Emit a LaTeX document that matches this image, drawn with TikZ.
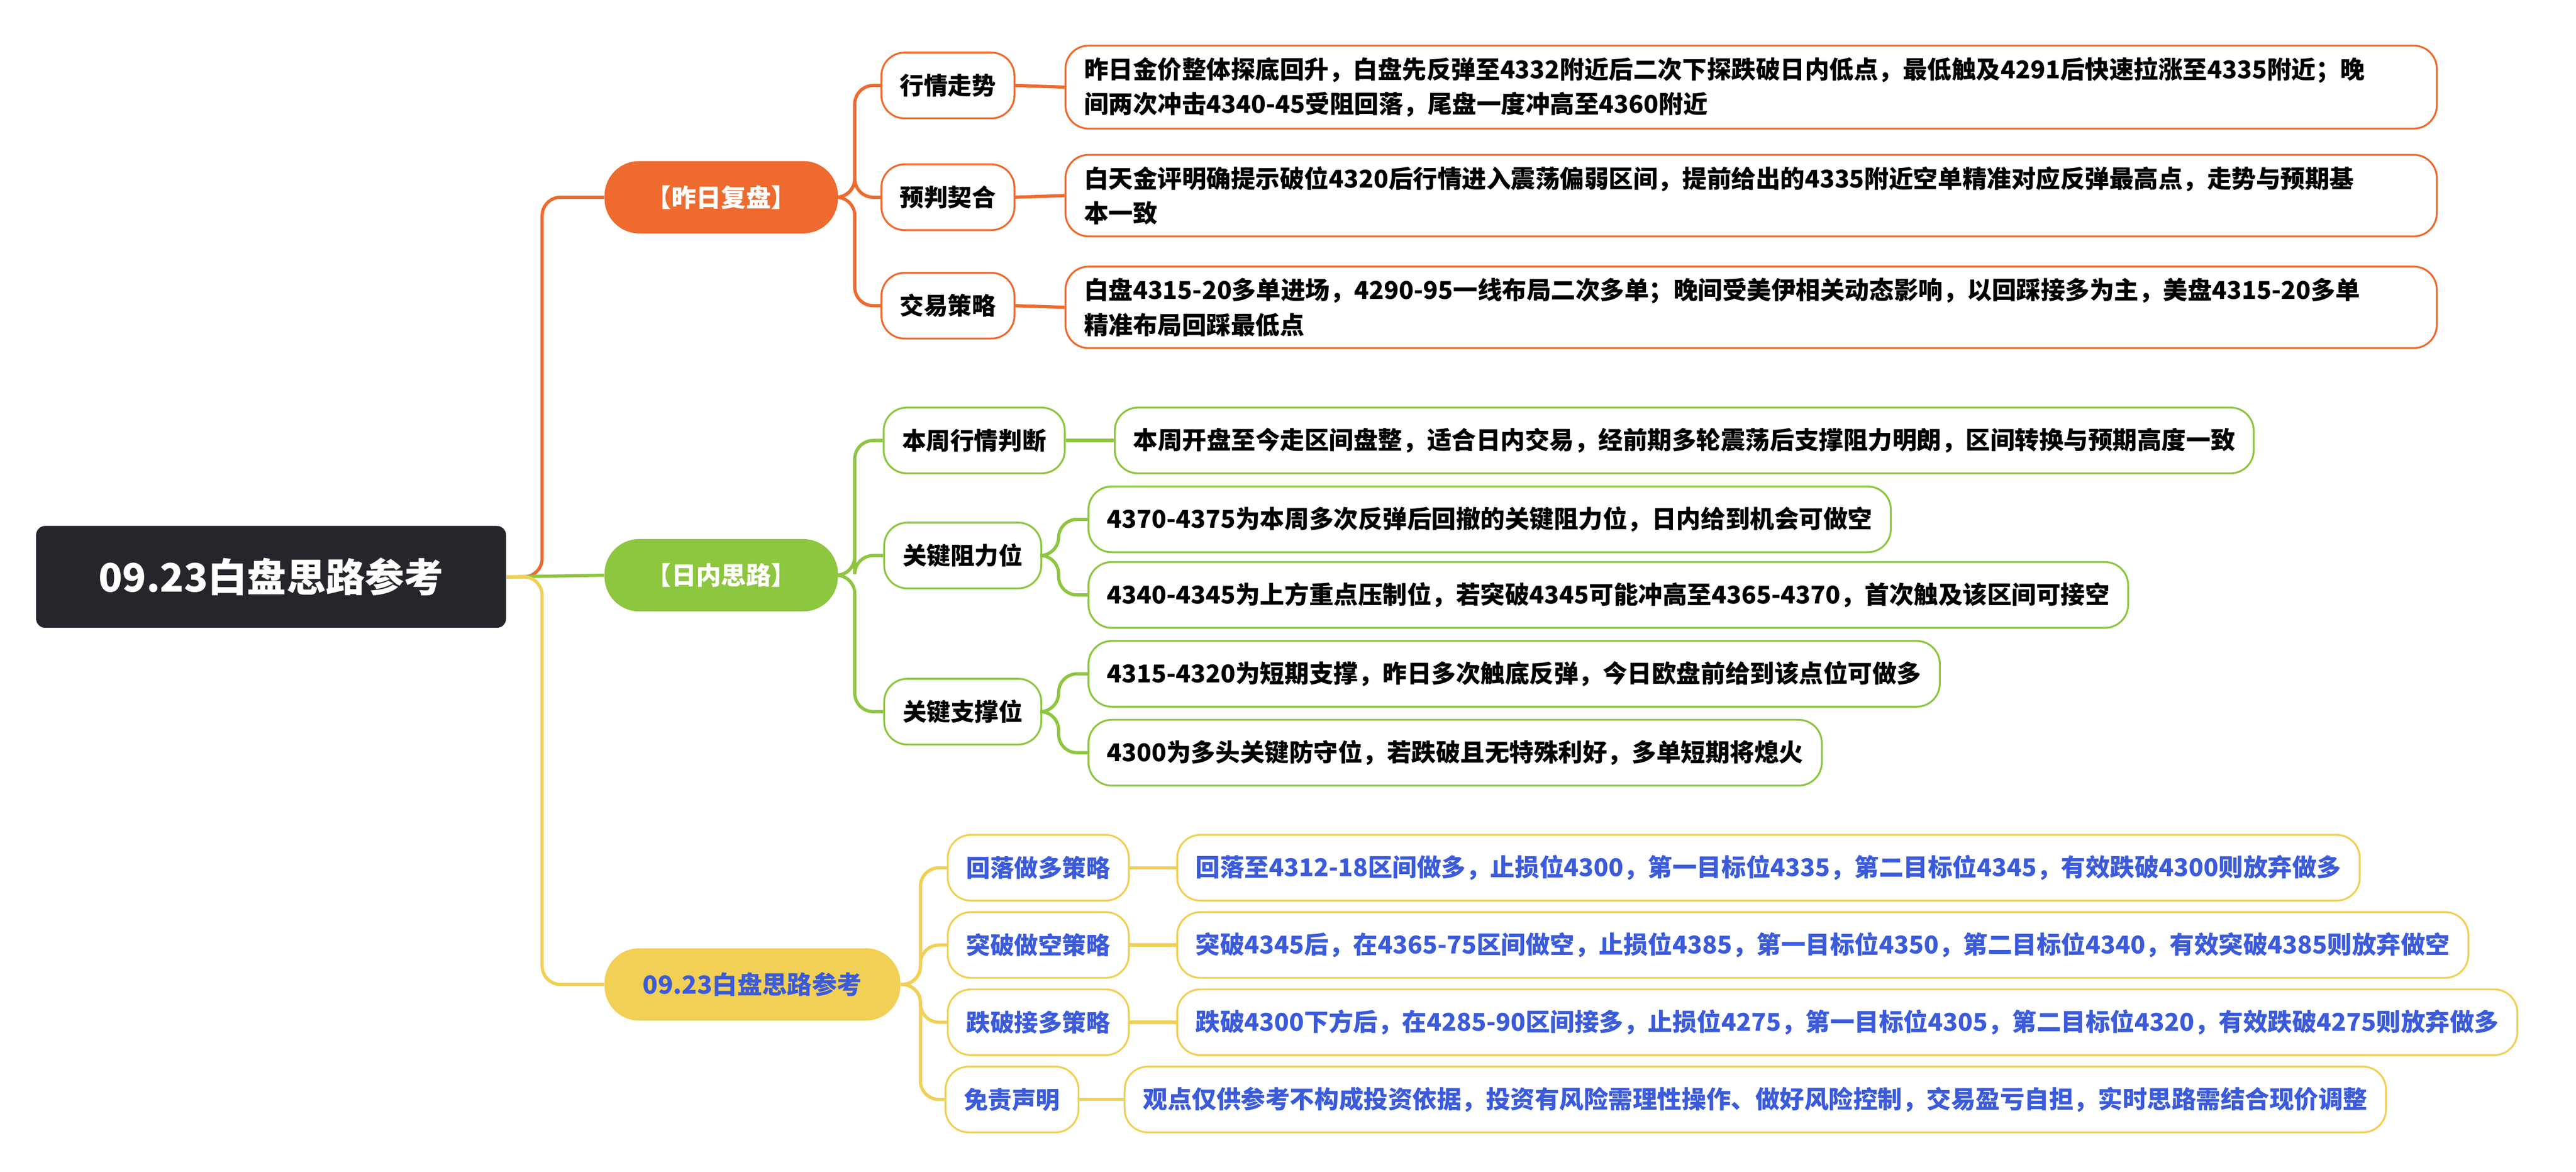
\documentclass[tikz,border=0pt]{standalone}
\usepackage{fontspec}
\setmainfont{Noto Sans CJK SC}
\usetikzlibrary{positioning}
\definecolor{rootc}{HTML}{25262B}
\definecolor{orc}{HTML}{EE6A2E}
\definecolor{grc}{HTML}{8DC63F}
\definecolor{yec}{HTML}{F2CF55}
\definecolor{blc}{HTML}{3B5BDB}
\tikzset{
  branch/.style={rounded corners=15pt,minimum height=1.1cm,inner xsep=10pt,font=\fontsize{10.8}{12}\selectfont\bfseries},
  topic/.style={draw,fill=white,rounded corners=10pt,line width=0.8pt,minimum height=1cm,inner xsep=8pt,font=\fontsize{10.4}{12}\selectfont\bfseries},
  leaf/.style={topic,anchor=west,align=left,inner ysep=5pt,font=\fontsize{10.6}{15}\selectfont\bfseries},
  link/.style={line width=1.4pt,rounded corners=8pt}
}
\begin{document}
\begin{tikzpicture}[x=0.025cm,y=-0.025cm]
  \useasboundingbox (0,0) rectangle (1568,713);
  \node (root) at (165,351)[fill=rootc,text=white,rounded corners=4pt,minimum width=7.15cm,minimum height=1.55cm,font=\fontsize{17}{20}\selectfont\bfseries]{09.23白盘思路参考};
  \node (b1) at (439,120)[branch,fill=orc,text=white,minimum width=3.55cm]{【昨日复盘】};
  \node (b2) at (439,350)[branch,fill=grc,text=white,minimum width=3.55cm]{【日内思路】};
  \node (b3) at (458,599)[branch,fill=yec,text=blc,minimum width=4.5cm]{09.23白盘思路参考};
  \coordinate (trunk) at (330,351);
  \draw[link,orc] (root.east) -- (trunk) |- (b1.west);
  \draw[link,grc] (root.east) -- (b2.west);
  \draw[link,yec] (root.east) -- (trunk) |- (b3.west);

  % yesterday
  \begin{scope}[every node/.append style={draw=orc}]
    \node (t1) at (577,52)[topic]{行情走势};
    \node (t2) at (577,120)[topic]{预判契合};
    \node (t3) at (577,186)[topic]{交易策略};
    \node (l1) at (648,53)[leaf,text width=20.3cm]{昨日金价整体探底回升，白盘先反弹至4332附近后二次下探跌破日内低点，最低触及4291后快速拉涨至4335附近；晚\\间两次冲击4340-45受阻回落，尾盘一度冲高至4360附近};
    \node (l2) at (648,119)[leaf,text width=20.3cm]{白天金评明确提示破位4320后行情进入震荡偏弱区间，提前给出的4335附近空单精准对应反弹最高点，走势与预期基\\本一致};
    \node (l3) at (648,187)[leaf,text width=20.3cm]{白盘4315-20多单进场，4290-95一线布局二次多单；晚间受美伊相关动态影响，以回踩接多为主，美盘4315-20多单\\精准布局回踩最低点};
  \end{scope}
  \foreach \t in {t1,t2,t3} \draw[link,orc] (b1.east) -- ++(10,0) |- (\t.west);
  \foreach \t/\l in {t1/l1,t2/l2,t3/l3} \draw[link,orc] (\t.east) -- (\l.west);

  % intraday
  \begin{scope}[every node/.append style={draw=grc}]
    \node (t4) at (593,268)[topic]{本周行情判断};
    \node (t5) at (586,338)[topic]{关键阻力位};
    \node (t6) at (586,433)[topic]{关键支撑位};
    \node (l4) at (678,268)[leaf]{本周开盘至今走区间盘整，适合日内交易，经前期多轮震荡后支撑阻力明朗，区间转换与预期高度一致};
    \node (l5) at (662,316)[leaf]{4370-4375为本周多次反弹后回撤的关键阻力位，日内给到机会可做空};
    \node (l6) at (662,362)[leaf]{4340-4345为上方重点压制位，若突破4345可能冲高至4365-4370，首次触及该区间可接空};
    \node (l7) at (662,410)[leaf]{4315-4320为短期支撑，昨日多次触底反弹，今日欧盘前给到该点位可做多};
    \node (l8) at (662,458)[leaf]{4300为多头关键防守位，若跌破且无特殊利好，多单短期将熄火};
  \end{scope}
  \foreach \t in {t4,t5,t6} \draw[link,grc] (b2.east) -- ++(10,0) |- (\t.west);
  \draw[link,grc] (t4.east) -- (l4.west);
  \foreach \l in {l5,l6} \draw[link,grc] (t5.east) -- ++(10,0) |- (\l.west);
  \foreach \l in {l7,l8} \draw[link,grc] (t6.east) -- ++(10,0) |- (\l.west);

  % plan
  \begin{scope}[every node/.append style={draw=yec,text=blc}]
    \node (t7) at (632,528)[topic]{回落做多策略};
    \node (t8) at (632,575)[topic]{突破做空策略};
    \node (t9) at (632,622)[topic]{跌破接多策略};
    \node (t10) at (616,669)[topic]{免责声明};
    \node (l9) at (716,528)[leaf]{回落至4312-18区间做多，止损位4300，第一目标位4335，第二目标位4345，有效跌破4300则放弃做多};
    \node (l10) at (716,575)[leaf]{突破4345后，在4365-75区间做空，止损位4385，第一目标位4350，第二目标位4340，有效突破4385则放弃做空};
    \node (l11) at (716,622)[leaf]{跌破4300下方后，在4285-90区间接多，止损位4275，第一目标位4305，第二目标位4320，有效跌破4275则放弃做多};
    \node (l12) at (684,669)[leaf]{观点仅供参考不构成投资依据，投资有风险需理性操作、做好风险控制，交易盈亏自担，实时思路需结合现价调整};
  \end{scope}
  \foreach \t in {t7,t8,t9,t10} \draw[link,yec] (b3.east) -- ++(12,0) |- (\t.west);
  \foreach \t/\l in {t7/l9,t8/l10,t9/l11,t10/l12} \draw[link,yec] (\t.east) -- (\l.west);
\end{tikzpicture}
\end{document}
